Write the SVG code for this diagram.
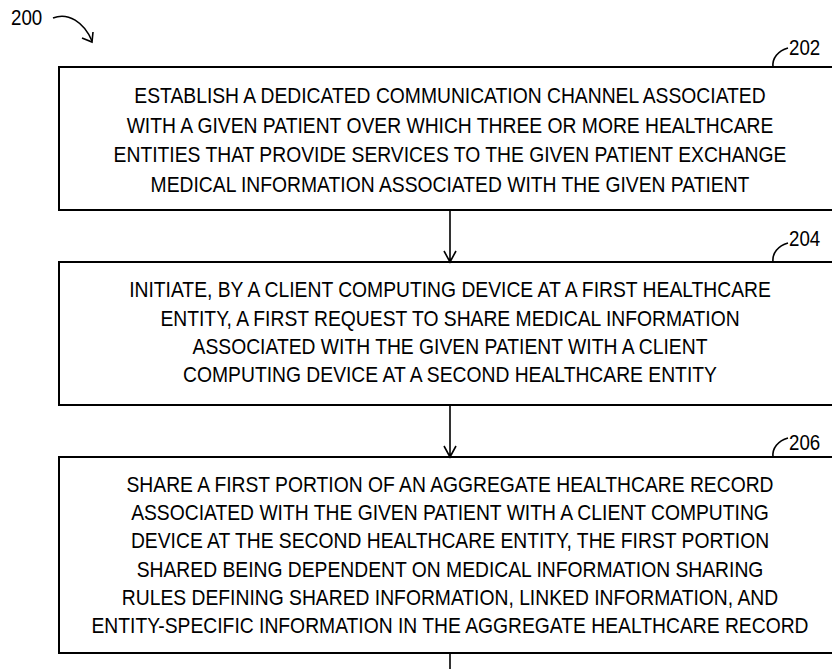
<svg xmlns="http://www.w3.org/2000/svg" width="832" height="669" viewBox="0 0 832 669">
<style>
.box{fill:#fff;stroke:#000;stroke-width:2}
.t{font-family:"Liberation Sans",Arial,sans-serif;font-size:22px;fill:#000;text-anchor:middle}
.lbl{font-family:"Liberation Sans",Arial,sans-serif;font-size:22px;fill:#000}
.ln{fill:none;stroke:#000;stroke-width:1.6}
</style>
<rect width="832" height="669" fill="#fff"/>
<g id="ref200">
  <text class="lbl" transform="translate(11,25) scale(0.85,1)">200</text>
  <path class="ln" d="M53,18 C68,12 84,22 92,41"/>
  <path class="ln" d="M82,38 L92,42 L93,32"/>
</g>
<g id="node202">
  <rect class="box" x="59" y="67" width="790" height="143"/>
  <g transform="translate(450,0) scale(0.877,1)">
    <text class="t" x="0" y="103">ESTABLISH A DEDICATED COMMUNICATION CHANNEL ASSOCIATED</text>
    <text class="t" x="0" y="133">WITH A GIVEN PATIENT OVER WHICH THREE OR MORE HEALTHCARE</text>
    <text class="t" x="0" y="162">ENTITIES THAT PROVIDE SERVICES TO THE GIVEN PATIENT EXCHANGE</text>
    <text class="t" x="0" y="192">MEDICAL INFORMATION ASSOCIATED WITH THE GIVEN PATIENT</text>
  </g>
  <path class="ln" d="M773,67 C772,58 778,51 788,48"/>
  <text class="lbl" transform="translate(789,55) scale(0.85,1)">202</text>
</g>
<g id="node204">
  <rect class="box" x="59" y="262" width="790" height="143"/>
  <g transform="translate(450,0) scale(0.877,1)">
    <text class="t" x="0" y="297">INITIATE, BY A CLIENT COMPUTING DEVICE AT A FIRST HEALTHCARE</text>
    <text class="t" x="0" y="326">ENTITY, A FIRST REQUEST TO SHARE MEDICAL INFORMATION</text>
    <text class="t" x="0" y="354">ASSOCIATED WITH THE GIVEN PATIENT WITH A CLIENT</text>
    <text class="t" x="0" y="382">COMPUTING DEVICE AT A SECOND HEALTHCARE ENTITY</text>
  </g>
  <path class="ln" d="M773,262 C772,253 778,246 788,243"/>
  <text class="lbl" transform="translate(789,246) scale(0.85,1)">204</text>
</g>
<g id="node206">
  <rect class="box" x="59" y="457" width="790" height="196"/>
  <g transform="translate(450,0) scale(0.877,1)">
    <text class="t" x="0" y="492">SHARE A FIRST PORTION OF AN AGGREGATE HEALTHCARE RECORD</text>
    <text class="t" x="0" y="520">ASSOCIATED WITH THE GIVEN PATIENT WITH A CLIENT COMPUTING</text>
    <text class="t" x="0" y="548">DEVICE AT THE SECOND HEALTHCARE ENTITY, THE FIRST PORTION</text>
    <text class="t" x="0" y="577">SHARED BEING DEPENDENT ON MEDICAL INFORMATION SHARING</text>
    <text class="t" x="0" y="605">RULES DEFINING SHARED INFORMATION, LINKED INFORMATION, AND</text>
    <text class="t" x="0" y="633">ENTITY-SPECIFIC INFORMATION IN THE AGGREGATE HEALTHCARE RECORD</text>
  </g>
  <path class="ln" d="M773,457 C772,448 778,441 788,438"/>
  <text class="lbl" transform="translate(789,450) scale(0.85,1)">206</text>
</g>
<g id="connectors">
  <path class="ln" d="M450,210 V261 M444,251 L450,262 L456,251"/>
  <path class="ln" d="M450,405 V456 M444,446 L450,457 L456,446"/>
  <path class="ln" d="M450,653 V669"/>
</g>
</svg>
